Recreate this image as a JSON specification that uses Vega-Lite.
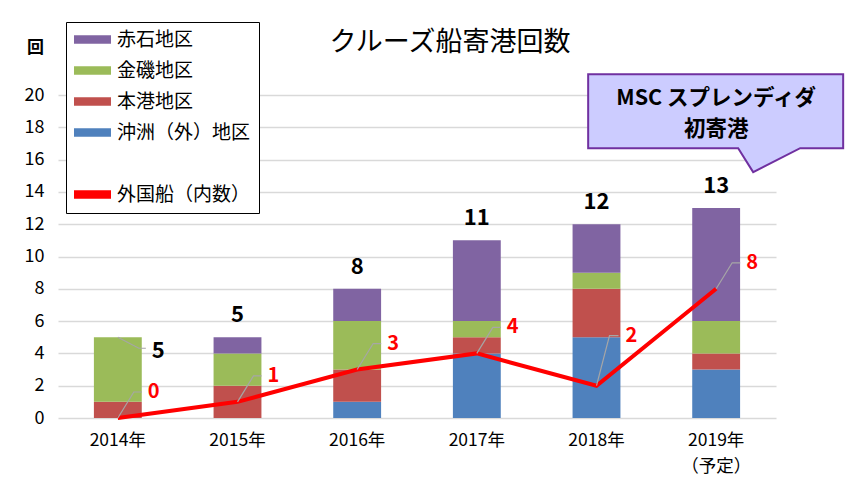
{
  "$schema": "https://vega.github.io/schema/vega-lite/v6.json",
  "width": 718,
  "height": 323,
  "autosize": {"type": "none"},
  "padding": {"left": 58, "top": 95, "right": 69, "bottom": 64},
  "background": "white",
  "title": {
    "text": "クルーズ船寄港回数",
    "frame": "group",
    "anchor": "middle",
    "fontSize": 27,
    "fontWeight": "normal",
    "font": "Noto Sans CJK JP",
    "color": "black",
    "dx": 33,
    "offset": -35
  },
  "config": {
    "view": {"stroke": null},
    "font": "Noto Sans CJK JP"
  },
  "datasets": {
    "visits": [
      {"year": "2014年", "area": "沖洲（外）地区", "count": 0},
      {"year": "2014年", "area": "本港地区", "count": 1},
      {"year": "2014年", "area": "金磯地区", "count": 4},
      {"year": "2014年", "area": "赤石地区", "count": 0},
      {"year": "2015年", "area": "沖洲（外）地区", "count": 0},
      {"year": "2015年", "area": "本港地区", "count": 2},
      {"year": "2015年", "area": "金磯地区", "count": 2},
      {"year": "2015年", "area": "赤石地区", "count": 1},
      {"year": "2016年", "area": "沖洲（外）地区", "count": 1},
      {"year": "2016年", "area": "本港地区", "count": 2},
      {"year": "2016年", "area": "金磯地区", "count": 3},
      {"year": "2016年", "area": "赤石地区", "count": 2},
      {"year": "2017年", "area": "沖洲（外）地区", "count": 4},
      {"year": "2017年", "area": "本港地区", "count": 1},
      {"year": "2017年", "area": "金磯地区", "count": 1},
      {"year": "2017年", "area": "赤石地区", "count": 5},
      {"year": "2018年", "area": "沖洲（外）地区", "count": 5},
      {"year": "2018年", "area": "本港地区", "count": 3},
      {"year": "2018年", "area": "金磯地区", "count": 1},
      {"year": "2018年", "area": "赤石地区", "count": 3},
      {"year": "2019年", "area": "沖洲（外）地区", "count": 3},
      {"year": "2019年", "area": "本港地区", "count": 1},
      {"year": "2019年", "area": "金磯地区", "count": 2},
      {"year": "2019年", "area": "赤石地区", "count": 7}
    ],
    "years": [
      {"year": "2014年", "total": 5, "foreign": 0},
      {"year": "2015年", "total": 5, "foreign": 1},
      {"year": "2016年", "total": 8, "foreign": 3},
      {"year": "2017年", "total": 11, "foreign": 4},
      {"year": "2018年", "total": 12, "foreign": 2},
      {"year": "2019年", "total": 13, "foreign": 8}
    ],
    "note": [
      {"text": "MSC スプレンディダ\n初寄港"}
    ]
  },
  "layer": [
    {
      "data": {"name": "visits"},
      "transform": [
        {"window": [{"op": "row_number", "as": "rank"}], "groupby": ["year"]}
      ],
      "mark": {"type": "bar"},
      "encoding": {
        "x": {
          "field": "year",
          "type": "nominal",
          "scale": {
            "domain": ["2014年", "2015年", "2016年", "2017年", "2018年", "2019年"],
            "paddingInner": 0.6,
            "paddingOuter": 0.3
          },
          "axis": {
            "title": null,
            "domain": false,
            "ticks": false,
            "labelAngle": 0,
            "labelPadding": 13,
            "labelFontSize": 17.5,
            "labelColor": "black",
            "labelLineHeight": 26,
            "labelFont": "Noto Sans CJK JP",
            "labelExpr": "datum.value == '2019年' ? ['2019年', '（予定）'] : datum.value"
          }
        },
        "y": {
          "field": "count",
          "type": "quantitative",
          "stack": "zero",
          "scale": {"domain": [0, 20]},
          "axis": {
            "title": "回",
            "titleAngle": 0,
            "titleX": -23,
            "titleY": -48,
            "titleAlign": "center",
            "titleBaseline": "middle",
            "titleFontSize": 17,
            "titleFontWeight": "bold",
            "titleColor": "black",
            "values": [0, 2, 4, 6, 8, 10, 12, 14, 16, 18, 20],
            "tickCount": 12,
            "labelOverlap": false,
            "domain": false,
            "ticks": false,
            "labelPadding": 14,
            "labelFontSize": 18,
            "labelColor": "black",
            "gridColor": "#d9d9d9",
            "gridWidth": 1.5
          }
        },
        "color": {
          "field": "area",
          "type": "nominal",
          "scale": {
            "domain": ["赤石地区", "金磯地区", "本港地区", "沖洲（外）地区", " ", "外国船（内数）"],
            "range": ["#8064a2", "#9bbb59", "#c0504d", "#4f81bd", "rgba(0,0,0,0)", "#ff0000"]
          },
          "legend": {
            "title": null,
            "orient": "none",
            "legendX": 8,
            "legendY": -73,
            "direction": "vertical",
            "symbolType": "M-2,-0.45H2V0.45H-2Z",
            "symbolSize": 342,
            "symbolStrokeWidth": 0,
            "symbolOffset": 9,
            "labelOffset": 15,
            "labelFontSize": 19,
            "labelFont": "Noto Sans CJK JP",
            "labelColor": "black",
            "labelLimit": 300,
            "rowPadding": 11,
            "padding": 8,
            "strokeColor": "black",
            "fillColor": "white"
          }
        },
        "order": {"field": "rank", "type": "quantitative", "sort": "ascending"}
      }
    },
    {
      "data": {"name": "years"},
      "mark": {"type": "line", "color": "#ff0000", "strokeWidth": 4},
      "encoding": {
        "x": {"field": "year", "type": "nominal"},
        "y": {"field": "foreign", "type": "quantitative"}
      }
    },
    {
      "data": {"name": "years"},
      "transform": [{"filter": "datum.year != '2018年'"}],
      "mark": {"type": "point", "shape": "M0,0L16,-26H24", "size": 4, "filled": false, "stroke": "#a6a6a6", "strokeWidth": 1.2, "opacity": 1},
      "encoding": {
        "x": {"field": "year", "type": "nominal"},
        "y": {"field": "foreign", "type": "quantitative"}
      }
    },
    {
      "data": {"name": "years"},
      "transform": [{"filter": "datum.year == '2018年'"}],
      "mark": {"type": "point", "shape": "M0,0L13,-50H22", "size": 4, "filled": false, "stroke": "#a6a6a6", "strokeWidth": 1.2, "opacity": 1},
      "encoding": {
        "x": {"field": "year", "type": "nominal"},
        "y": {"field": "foreign", "type": "quantitative"}
      }
    },
    {
      "data": {"name": "years"},
      "transform": [{"filter": "datum.year != '2018年'"}],
      "mark": {"type": "text", "align": "left", "baseline": "middle", "dx": 30, "dy": -26, "fontSize": 20, "fontWeight": "bold", "color": "#ff0000"},
      "encoding": {
        "x": {"field": "year", "type": "nominal"},
        "y": {"field": "foreign", "type": "quantitative"},
        "text": {"field": "foreign"}
      }
    },
    {
      "data": {"name": "years"},
      "transform": [{"filter": "datum.year == '2018年'"}],
      "mark": {"type": "text", "align": "left", "baseline": "middle", "dx": 29, "dy": -50, "fontSize": 20, "fontWeight": "bold", "color": "#ff0000"},
      "encoding": {
        "x": {"field": "year", "type": "nominal"},
        "y": {"field": "foreign", "type": "quantitative"},
        "text": {"field": "foreign"}
      }
    },
    {
      "data": {"name": "years"},
      "transform": [{"filter": "datum.year != '2014年'"}],
      "mark": {"type": "text", "align": "center", "baseline": "middle", "dy": -22, "fontSize": 22, "fontWeight": "bold", "color": "black"},
      "encoding": {
        "x": {"field": "year", "type": "nominal"},
        "y": {"field": "total", "type": "quantitative"},
        "text": {"field": "total"}
      }
    },
    {
      "data": {"name": "years"},
      "transform": [{"filter": "datum.year == '2014年'"}],
      "mark": {"type": "point", "shape": "M0,0L21,11H28", "size": 4, "filled": false, "stroke": "#a6a6a6", "strokeWidth": 1.2, "opacity": 1},
      "encoding": {
        "x": {"field": "year", "type": "nominal"},
        "y": {"field": "total", "type": "quantitative"}
      }
    },
    {
      "data": {"name": "years"},
      "transform": [{"filter": "datum.year == '2014年'"}],
      "mark": {"type": "text", "align": "left", "baseline": "middle", "dx": 34, "dy": 14, "fontSize": 22, "fontWeight": "bold", "color": "black"},
      "encoding": {
        "x": {"field": "year", "type": "nominal"},
        "y": {"field": "total", "type": "quantitative"},
        "text": {"field": "total"}
      }
    },
    {
      "data": {"name": "note"},
      "mark": {"type": "point", "shape": "M-128,-37H127V37H84L37,61L22,37H-128Z", "size": 4, "filled": true, "fill": "#ccccff", "stroke": "#7030a0", "strokeWidth": 2, "opacity": 1},
      "encoding": {
        "x": {"datum": "2019年"},
        "y": {"datum": 19}
      }
    },
    {
      "data": {"name": "note"},
      "mark": {"type": "text", "align": "center", "baseline": "middle", "lineBreak": "\n", "lineHeight": 31, "dy": -12, "fontSize": 21.5, "fontWeight": "bold", "color": "black"},
      "encoding": {
        "x": {"datum": "2019年"},
        "y": {"datum": 19},
        "text": {"field": "text"}
      }
    }
  ]
}
